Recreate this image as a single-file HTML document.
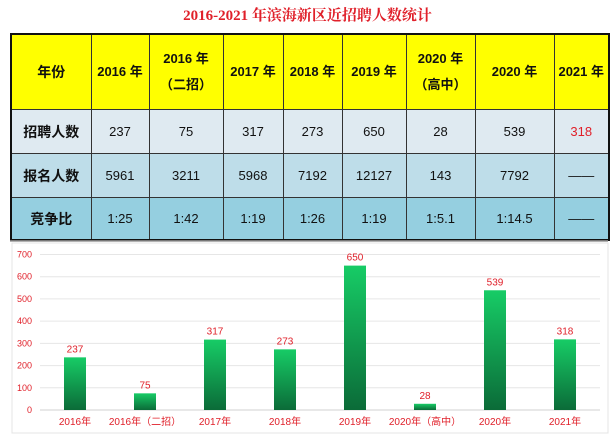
<!DOCTYPE html>
<html><head><meta charset="utf-8"><style>
body{margin:0;width:615px;height:439px;background:#fff;position:relative;overflow:hidden;font-family:"Liberation Sans","Noto Sans CJK SC",sans-serif}
#title{position:absolute;left:0;width:615px;top:4px;text-align:center;color:#e0202a;font-weight:bold;font-size:15px;font-family:"Liberation Serif","Noto Serif CJK SC",serif}
table{position:absolute;left:10px;top:33px;border-collapse:collapse;border:2px solid #111}
td{border:1px solid #333;text-align:center;font-size:13px;padding:0;color:#111}
tr.h td{background:#ffff00;font-weight:bold;height:74px;line-height:26px}
tr.r1 td{background:#dfeaf1;height:43px}
tr.r2 td{background:#bedde9;height:43px}
tr.r3 td{background:#95cfe0;height:41px}
td.lab{font-size:14px;font-weight:bold}
#chart{position:absolute;left:0;top:240px}
</style></head><body>
<div id="title">2016-2021 年滨海新区近招聘人数统计</div>
<table>
<colgroup><col style="width:80px"><col style="width:58px"><col style="width:74px"><col style="width:60px"><col style="width:59px"><col style="width:64px"><col style="width:69px"><col style="width:79px"><col style="width:55px"></colgroup>
<tr class="h"><td class="lab">年份</td><td>2016 年</td><td>2016 年<br>（二招）</td><td>2017 年</td><td>2018 年</td><td>2019 年</td><td>2020 年<br>（高中）</td><td>2020 年</td><td>2021 年</td></tr>
<tr class="r1"><td class="lab">招聘人数</td><td>237</td><td>75</td><td>317</td><td>273</td><td>650</td><td>28</td><td>539</td><td style="color:#e0202a">318</td></tr>
<tr class="r2"><td class="lab">报名人数</td><td>5961</td><td>3211</td><td>5968</td><td>7192</td><td>12127</td><td>143</td><td>7792</td><td>——</td></tr>
<tr class="r3"><td class="lab">竞争比</td><td>1:25</td><td>1:42</td><td>1:19</td><td>1:26</td><td>1:19</td><td>1:5.1</td><td>1:14.5</td><td>——</td></tr>
</table>
<svg id="chart" width="615" height="199">
<defs><linearGradient id="g" x1="0" y1="0" x2="0" y2="1"><stop offset="0" stop-color="#17cc66"/><stop offset="1" stop-color="#0b6b38"/></linearGradient></defs>
<line x1="10" y1="1" x2="608" y2="1" stroke="#999" stroke-width="1.5"/>
<rect x="12" y="3" width="596" height="190" fill="none" stroke="#e4e4e4"/>
<g id="grid"></g><g id="bars"></g>
</svg>
<script>
const categories=["2016年","2016年（二招）","2017年","2018年","2019年","2020年（高中）","2020年","2021年"];
const values=[237,75,317,273,650,28,539,318];
const ticks=[0,100,200,300,400,500,600,700];
const NS="http://www.w3.org/2000/svg";
const y0=170,pxPer=155.5/700,x0=40,x1=600;
const y=v=>y0-v*pxPer;
const xc=i=>x0+(x1-x0)/categories.length*(i+0.5);
const grid=document.getElementById('grid'),bars=document.getElementById('bars');
function mk(t,a,p){const e=document.createElementNS(NS,t);for(const k in a)e.setAttribute(k,a[k]);p.appendChild(e);return e;}
ticks.forEach(t=>{
 const l=mk('line',{x1:x0,x2:x1,y1:y(t),y2:y(t),stroke:t?'#e6e6e6':'#d0d0d0'},grid);
 
 
 const tx=mk('text',{x:32,y:y(t)+3,'text-anchor':'end','font-size':'9','fill':'#e0202a','font-family':'Liberation Sans, sans-serif'},grid);
 tx.textContent=t;
 
 
});
categories.forEach((c,i)=>{
 const v=values[i],w=22;
 const r=mk('rect',{x:xc(i)-w/2,y:y(v),width:w,height:v*pxPer,fill:'url(#g)'},bars);
 
 
 const lb=mk('text',{x:xc(i),y:y(v)-5,'text-anchor':'middle','font-size':'10','fill':'#e0202a','font-family':'Liberation Sans, sans-serif'},bars);
 lb.textContent=v;
 
 
 const cl=mk('text',{x:xc(i),y:185,'text-anchor':'middle','font-size':'10','fill':'#e0202a','font-family':'Liberation Sans, Noto Sans CJK SC, sans-serif'},bars);
 cl.textContent=c;
 
 
});
</script>
</body></html>
